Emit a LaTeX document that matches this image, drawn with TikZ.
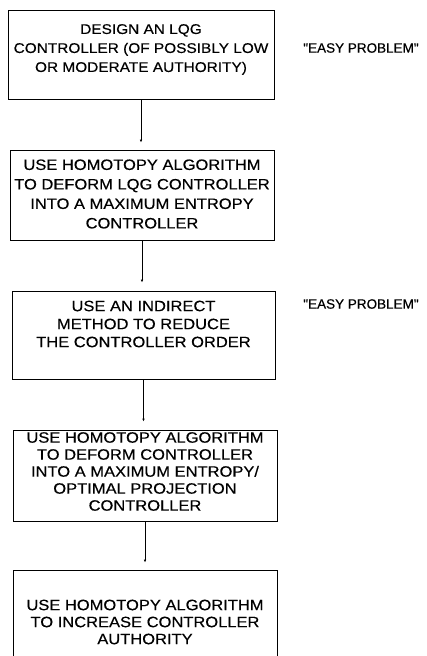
\documentclass[tikz,border=0pt]{standalone}
\usepackage{fontspec}
\setmainfont{Liberation Sans}[FakeStretch=1.1,FakeBold=0.4]
\newfontfamily\notefont{Liberation Sans}[Ligatures=TeXOff,FakeBold=0.4]
\usetikzlibrary{arrows.meta}
\begin{document}
\begin{tikzpicture}[x=1pt,y=-1pt,
  stepbox/.style={draw=black,line width=0.85pt,rectangle,inner sep=0pt},
  steptext/.style={align=center,inner sep=0pt,font=\fontsize{15}{19}\selectfont},
  note/.style={font=\notefont\fontsize{13.5}{16}\selectfont,inner sep=0pt},
  link/.style={draw=black,line width=0.8pt,-{Latex[length=3pt,width=2.6pt]}}]
  \useasboundingbox (0,0) rectangle (426,656);

  % process steps: frames
  \node[stepbox,minimum width=266pt,minimum height=89pt] (b1) at (141,54.5) {};
  \node[stepbox,minimum width=264pt,minimum height=90pt] (b2) at (142,195) {};
  \node[stepbox,minimum width=263pt,minimum height=88pt] (b3) at (143.5,335) {};
  \node[stepbox,minimum width=264pt,minimum height=91pt] (b4) at (145,475.5) {};
  \node[stepbox,minimum width=264pt,minimum height=104pt] (b5) at (145,622) {};

  % process steps: wording (yshift is measured upwards)
  \node[steptext,font=\fontsize{14}{19}\selectfont] (b1t) at ([yshift=5pt]b1.center)
    {DESIGN AN LQG\\CONTROLLER (OF POSSIBLY LOW\\OR MODERATE AUTHORITY)};
  \node[steptext,font=\fontsize{15}{19.5}\selectfont] (b2t) at ([yshift=1pt]b2.center)
    {USE HOMOTOPY ALGORITHM\\TO DEFORM LQG CONTROLLER\\INTO A MAXIMUM ENTROPY\\CONTROLLER};
  \node[steptext,font=\fontsize{15}{18}\selectfont] (b3t) at ([yshift=11pt]b3.center)
    {USE AN INDIRECT\\METHOD TO REDUCE\\THE CONTROLLER ORDER};
  \node[steptext,font=\fontsize{15}{17}\selectfont] (b4t) at ([yshift=4pt]b4.center)
    {USE HOMOTOPY ALGORITHM\\TO DEFORM CONTROLLER\\INTO A MAXIMUM ENTROPY/\\OPTIMAL PROJECTION\\CONTROLLER};
  \node[steptext,font=\fontsize{15}{17}\selectfont] (b5t) at (b5.center)
    {USE HOMOTOPY ALGORITHM\\TO INCREASE CONTROLLER\\AUTHORITY};

  % side remarks
  \node[note] (e1) at (361,48) {"EASY PROBLEM"};
  \node[note] (e2) at (361,304) {"EASY PROBLEM"};

  % vertical connectors, each stopping just short of the next box
  \coordinate (t2) at ([yshift=7pt]b2.north -| b1.south);
  \coordinate (t3) at ([yshift=8pt]b3.north -| b2.south);
  \coordinate (t4) at ([yshift=8pt]b4.north -| b3.south);
  \coordinate (t5) at ([yshift=7pt]b5.north -| b4.south);
  \draw[link] (b1.south) -- (t2);
  \draw[link] (b2.south) -- (t3);
  \draw[link] (b3.south) -- (t4);
  \draw[link] (b4.south) -- (t5);
\end{tikzpicture}
\end{document}
